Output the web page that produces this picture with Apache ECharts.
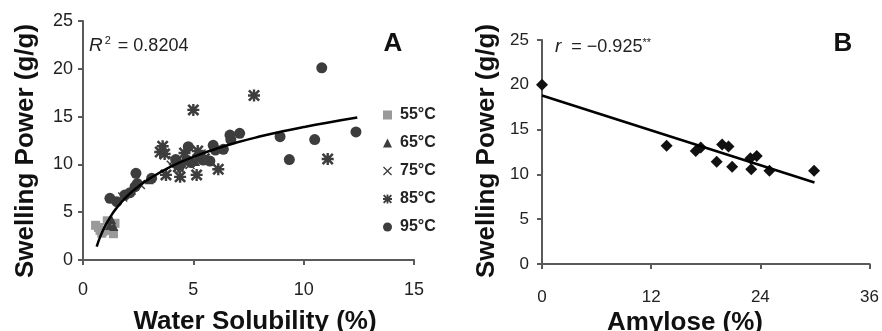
<!DOCTYPE html>
<html><head><meta charset="utf-8">
<script src="https://cdn.jsdelivr.net/npm/echarts@6/dist/echarts.min.js"></script>
<style>html,body{margin:0;padding:0;background:#fff}#c{width:882px;height:331px}</style>
</head><body><div id="c"></div>
<script>
// Panel A: water solubility (%) vs swelling power (g/g)
const a55 = [[0.57,3.63],[0.7,3.4],[0.77,3.1],[0.85,2.8],[1.0,3.1],[1.1,4.1],[1.45,3.84],[1.38,2.75],[1.2,3.3],[0.9,3.0]];
const a65 = [[1.3,4.2],[1.2,3.6],[1.4,3.5],[2.2,7.3],[3.0,8.4],[4.7,10.6],[5.1,10.3]];
const a75 = [[4.1,10.4],[4.5,10.1],[4.85,10.0],[5.35,11.1],[4.0,9.9],[2.6,7.9],[1.8,6.6]];
const a85 = [[7.75,17.2],[5.0,15.7],[11.09,10.56],[6.13,9.5],[5.15,8.9],[4.4,8.7],[3.76,8.9],[3.61,11.9],[3.5,11.3],[3.7,11.1],[4.32,9.76],[5.2,11.4],[4.6,11.2],[5.5,10.6]];
const a95 = [[10.82,20.1],[12.37,13.4],[10.5,12.6],[9.35,10.5],[8.93,12.9],[7.1,13.25],[6.66,13.07],[6.7,12.6],[6.36,11.58],[5.9,12.0],[6.0,11.5],[5.75,10.35],[5.45,10.46],[5.3,10.8],[4.77,11.85],[4.9,10.2],[4.7,10.46],[3.11,8.54],[2.4,9.07],[2.46,8.0],[1.22,6.45],[1.53,6.1],[1.9,6.8],[2.13,7.04],[2.36,7.67],[4.2,10.5],[4.4,9.9]];
const aTrend = [[0.62,1.4],[0.8,2.55],[1,3.55],[1.25,4.55],[1.5,5.37],[2,6.67],[2.5,7.67],[3,8.49],[4,9.79],[5,10.79],[6,11.61],[7,12.31],[8,12.91],[9,13.44],[10,13.91],[11,14.34],[12.43,14.9]];
// Panel B: amylose (%) vs swelling power (g/g)
const bPts = [[0,20.0],[13.7,13.2],[16.9,12.6],[17.45,13.0],[19.2,11.4],[19.8,13.35],[20.5,13.1],[20.9,10.86],[22.9,11.8],[23.0,10.57],[23.6,12.05],[25.0,10.4],[29.9,10.4]];
const bTrend = [[0,18.8],[29.95,9.1]];
const legendNames = ['55°C','65°C','75°C','85°C','95°C'];

const DARK = '#3d3d3d', LIGHT = '#9a9a9a', AX = '#5a5a5a';
const xPath = 'path://M1,0L5,4L9,0L10,1L6,5L10,9L9,10L5,6L1,10L0,9L4,5L0,1Z';
const starPath = 'path://M1.5,0L5,3.5L8.5,0L10,1.5L6.5,5L10,8.5L8.5,10L5,6.5L1.5,10L0,8.5L3.5,5L0,1.5Z M4,0L6,0L6,10L4,10Z M0,4L10,4L10,6L0,6Z';

function axisCommon(extra){
  return Object.assign({
    axisLine:{show:true,lineStyle:{color:AX,width:2}},
    axisTick:{show:true,length:5,lineStyle:{color:AX,width:2}},
    splitLine:{show:false}
  }, extra);
}
const lbl = (fs, m) => ({color:'#222',fontSize:fs,margin:m,fontFamily:'Liberation Sans, Arial'});

const chart = echarts.init(document.getElementById('c'));
chart.setOption({
  animation:false,
  backgroundColor:'#fff',
  grid:[
    {left:83, top:21, width:331, height:239},
    {left:542, top:40, width:329, height:224}
  ],
  xAxis:[
    axisCommon({gridIndex:0,type:'value',min:0,max:15,interval:5,axisLabel:lbl(18,21)}),
    axisCommon({gridIndex:1,type:'value',min:0,max:36,interval:12,axisLabel:lbl(17,25)})
  ],
  yAxis:[
    axisCommon({gridIndex:0,type:'value',min:0,max:25,interval:5,axisLabel:lbl(18,10)}),
    axisCommon({gridIndex:1,type:'value',min:0,max:25,interval:5,axisLabel:lbl(17,13)})
  ],
  legend:{
    orient:'vertical', left:378, top:102, itemWidth:9, itemHeight:9, itemGap:12,
    data:[
      {name:'55°C',icon:'rect',itemStyle:{color:LIGHT}},
      {name:'65°C',icon:'triangle',itemStyle:{color:DARK}},
      {name:'75°C',icon:xPath,itemStyle:{color:DARK}},
      {name:'85°C',icon:starPath,itemStyle:{color:DARK}},
      {name:'95°C',icon:'circle',itemStyle:{color:DARK}}
    ],
    textStyle:{fontSize:16,fontWeight:'bold',color:'#222',fontFamily:'Liberation Sans, Arial',padding:[0,0,0,3],lineHeight:16}
  },
  series:[
    {name:legendNames[0],type:'scatter',xAxisIndex:0,yAxisIndex:0,symbol:'rect',symbolSize:9,itemStyle:{color:LIGHT,opacity:1},data:a55,z:3},
    {name:legendNames[1],type:'scatter',xAxisIndex:0,yAxisIndex:0,symbol:'triangle',symbolSize:9,itemStyle:{color:DARK,opacity:1},data:a65,z:4},
    {name:legendNames[2],type:'scatter',xAxisIndex:0,yAxisIndex:0,symbol:xPath,symbolSize:10,itemStyle:{color:DARK,opacity:1},data:a75,z:4},
    {name:legendNames[3],type:'scatter',xAxisIndex:0,yAxisIndex:0,symbol:starPath,symbolSize:12,itemStyle:{color:DARK,opacity:1},data:a85,z:4},
    {name:legendNames[4],type:'scatter',xAxisIndex:0,yAxisIndex:0,symbol:'circle',symbolSize:11,itemStyle:{color:DARK,opacity:1},data:a95,z:4},
    {name:'fitA',type:'line',xAxisIndex:0,yAxisIndex:0,smooth:true,showSymbol:false,symbol:'none',lineStyle:{color:'#000',width:2.5},data:aTrend,z:6},
    {name:'ptsB',type:'scatter',xAxisIndex:1,yAxisIndex:1,symbol:'diamond',symbolSize:12,itemStyle:{color:'#111',opacity:1},data:bPts,z:4},
    {name:'fitB',type:'line',xAxisIndex:1,yAxisIndex:1,showSymbol:false,symbol:'none',lineStyle:{color:'#000',width:2.5},data:bTrend,z:6}
  ],
  graphic:[
    {type:'text',x:26,y:151,rotation:Math.PI/2,style:{text:'Swelling Power (g/g)',fill:'#111',font:'bold 26px "Liberation Sans", Arial',textAlign:'center',textVerticalAlign:'middle'}},
    {type:'text',x:487,y:151,rotation:Math.PI/2,style:{text:'Swelling Power (g/g)',fill:'#111',font:'bold 26px "Liberation Sans", Arial',textAlign:'center',textVerticalAlign:'middle'}},
    {type:'text',x:255,y:322,style:{text:'Water Solubility (%)',fill:'#111',font:'bold 26px "Liberation Sans", Arial',textAlign:'center',textVerticalAlign:'middle'}},
    {type:'text',x:685,y:323,style:{text:'Amylose (%)',fill:'#111',font:'bold 26px "Liberation Sans", Arial',textAlign:'center',textVerticalAlign:'middle'}},
    {type:'text',x:393,y:44,style:{text:'A',fill:'#111',font:'bold 26px "Liberation Sans", Arial',textAlign:'center',textVerticalAlign:'middle'}},
    {type:'text',x:843,y:44,style:{text:'B',fill:'#111',font:'bold 26px "Liberation Sans", Arial',textAlign:'center',textVerticalAlign:'middle'}},
    {type:'text',x:89,y:46,style:{text:'{i|R}{s|2}{n| = 0.8204}',textAlign:'left',textVerticalAlign:'middle',
      rich:{i:{fontStyle:'italic',fontSize:19,fontFamily:'Liberation Sans, Arial',fill:'#222'},
            s:{fontSize:11,fontFamily:'Liberation Sans, Arial',fill:'#222',verticalAlign:'top',padding:[0,2,10,2]},
            n:{fontSize:18,fontFamily:'Liberation Sans, Arial',fill:'#222'}}}},
    {type:'text',x:555,y:47,style:{text:'{i|r}{n|  = −0.925}{s|**}',textAlign:'left',textVerticalAlign:'middle',
      rich:{i:{fontStyle:'italic',fontSize:19,fontFamily:'Liberation Sans, Arial',fill:'#222'},
            s:{fontSize:11,fontFamily:'Liberation Sans, Arial',fill:'#222',padding:[0,0,8,0]},
            n:{fontSize:18,fontFamily:'Liberation Sans, Arial',fill:'#222'}}}}
  ]
});
</script></body></html>
